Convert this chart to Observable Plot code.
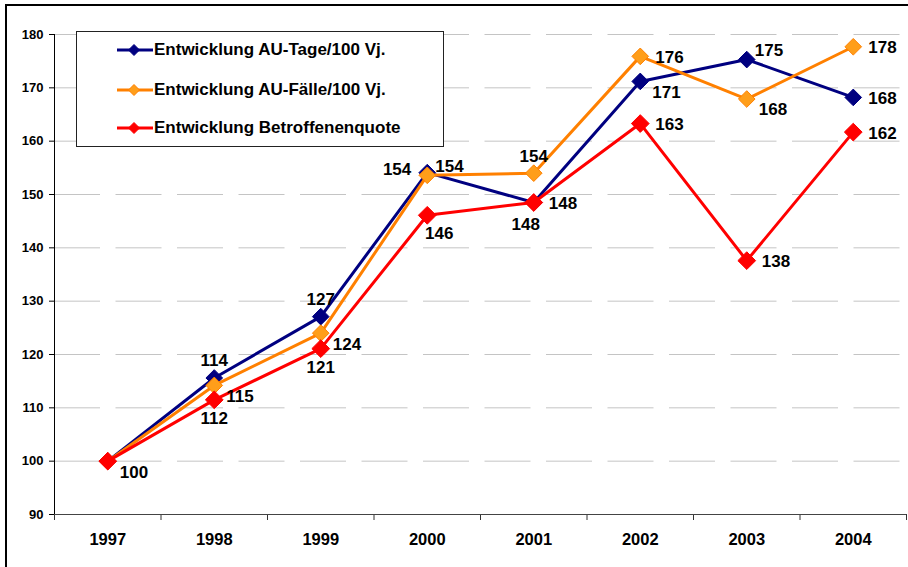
<!DOCTYPE html>
<html>
<head>
<meta charset="utf-8">
<script src="https://cdn.jsdelivr.net/npm/d3@7"></script>
<script src="https://cdn.jsdelivr.net/npm/@observablehq/plot@0.6"></script>
<style>
  html, body { margin: 0; padding: 0; background: #fff; overflow: hidden; }
  body { width: 908px; height: 567px; position: relative; font-family: "Liberation Sans", Arial, sans-serif; }
  #frame { position: absolute; left: 5px; top: 4px; width: 1000px; height: 1000px; border-top: 2px solid #000; border-left: 2px solid #000; pointer-events: none; }
  #chart { position: absolute; left: 0; top: 0; }
  #legend { position: absolute; left: 76px; top: 31px; width: 366px; height: 114px; border: 1px solid #222; background: #fff; box-sizing: content-box; }
  .item { position: absolute; left: 40px; height: 20px; display: flex; align-items: center; font-weight: bold; font-size: 17px; color: #000; white-space: nowrap; }
  .item svg { margin-right: 1px; }
</style>
</head>
<body>
<div id="chart"></div>
<div id="frame"></div>
<div id="legend"></div>
<script>
// ---- data ----
const years = [1997, 1998, 1999, 2000, 2001, 2002, 2003, 2004];
const seriesNames = ["Entwicklung AU-Tage/100 Vj.", "Entwicklung AU-Fälle/100 Vj.", "Entwicklung Betroffenenquote"];
const tageValues   = [100, 115.6, 127.1, 154.1, 148.5, 171.2, 175.3, 168.2];
const faelleValues = [100, 114.2, 124.0, 153.6, 154.0, 175.9, 167.9, 177.7];
const quoteValues  = [100, 111.5, 121.1, 146.1, 148.5, 163.3, 137.6, 161.7];
const tageLabels   = ["", "114", "127", "154", "148", "171", "175", "168"];
const faelleLabels = ["", "115", "124", "154", "154", "176", "168", "178"];
const quoteLabels  = ["100", "112", "121", "146", "148", "163", "138", "162"];
const yTicks = [90, 100, 110, 120, 130, 140, 150, 160, 170, 180];

// ---- label placement (relative to markers) ----
const tagePos   = [null, "N", "N", "W", "SSW", "SE", "NE", "E"];
const faellePos = [null, "SE", "SE", "NE", "N", "E", "SE", "E"];
const quotePos  = ["SE", "S", "S", "SSE", "E", "E", "E", "E"];
const placements = {
  N:   {dx: 0,   dy: -17, textAnchor: "middle"},
  S:   {dx: 0,   dy: 19,  textAnchor: "middle"},
  SSE: {dx: 12,  dy: 18,  textAnchor: "middle"},
  SSW: {dx: -8,  dy: 22,  textAnchor: "middle"},
  W:   {dx: -16, dy: -3,  textAnchor: "end"},
  E:   {dx: 15,  dy: 1,   textAnchor: "start"},
  SE:  {dx: 12,  dy: 11,  textAnchor: "start"},
  NE:  {dx: 8,   dy: -9,  textAnchor: "start"}
};

const styles = [
  {line: "#000080", fill: "#000080", stroke: "#000080", r: 7.5},
  {line: "#FF8000", fill: "#FF9E1A", stroke: "#FF8000", r: 7.5},
  {line: "#FF0000", fill: "#FF0000", stroke: "#FF0000", r: 8}
];

const series = [
  {name: seriesNames[0], values: tageValues, labels: tageLabels, pos: tagePos},
  {name: seriesNames[1], values: faelleValues, labels: faelleLabels, pos: faellePos},
  {name: seriesNames[2], values: quoteValues, labels: quoteLabels, pos: quotePos}
];
const rows = series.map((s, si) => years.map((y, i) => ({
  year: y, value: s.values[i], label: s.labels[i], pos: s.pos[i], si
})));
const allRows = rows.flat();

const boundaries = d3.range(1996.5, 2005, 1);
const gridVals = yTicks.filter(v => v > 90);

const marks = [
  Plot.ruleY(gridVals, {stroke: "#c4c4c4", strokeWidth: 1, strokeDasharray: "46,15.5"}),
  Plot.axisY({ticks: yTicks, tickSize: 5, tickPadding: 6, tickFormat: d => String(d), label: null,
              fontSize: 13, fontWeight: "bold", stroke: "#000"}),
  Plot.axisX({ticks: boundaries, tickSize: 6, tickFormat: () => "", label: null, stroke: "#333"}),
  Plot.axisX({ticks: years, tickSize: 0, tickPadding: 19, tickFormat: d => String(d), label: null,
              fontSize: 16.5, fontWeight: "bold"}),
  Plot.ruleX([1996.5], {stroke: "#000", strokeWidth: 1}),
  Plot.ruleY([90], {stroke: "#444", strokeWidth: 1})
];
rows.forEach((r, si) => {
  const st = styles[si];
  marks.push(Plot.line(r, {x: "year", y: "value", stroke: st.line, strokeWidth: 3}));
  marks.push(Plot.dot(r, {x: "year", y: "value", symbol: "diamond2", r: st.r, fill: st.fill, stroke: st.stroke, strokeWidth: 1}));
});
Object.entries(placements).forEach(([k, p]) => {
  const sub = allRows.filter(d => d.pos === k && d.label);
  if (sub.length) marks.push(Plot.text(sub, {x: "year", y: "value", text: "label", dx: p.dx, dy: p.dy,
    textAnchor: p.textAnchor, fontSize: 17, fontWeight: "bold", fill: "#000"}));
});

const chart = Plot.plot({
  width: 908,
  height: 567,
  marginLeft: 54,
  marginRight: 2,
  marginTop: 34,
  marginBottom: 53,
  style: {fontFamily: "'Liberation Sans', Arial, sans-serif", background: "transparent", color: "#000"},
  x: {domain: [1996.5, 2004.5]},
  y: {domain: [90, 180]},
  marks
});
document.getElementById("chart").appendChild(chart);

// ---- legend ----
const legend = document.getElementById("legend");
const legendTops = [8, 48, 86];
seriesNames.forEach((name, i) => {
  const st = styles[i];
  const div = document.createElement("div");
  div.className = "item";
  div.style.top = legendTops[i] + "px";
  div.innerHTML = `<svg width="36" height="14" viewBox="0 0 36 14">
      <line x1="0" y1="7" x2="36" y2="7" stroke="${st.line}" stroke-width="3"/>
      <path d="M17 1.5 L22.5 7 L17 12.5 L11.5 7 Z" fill="${st.fill}" stroke="${st.stroke}" stroke-width="1"/>
    </svg><span>${name}</span>`;
  legend.appendChild(div);
});
</script>
</body>
</html>
